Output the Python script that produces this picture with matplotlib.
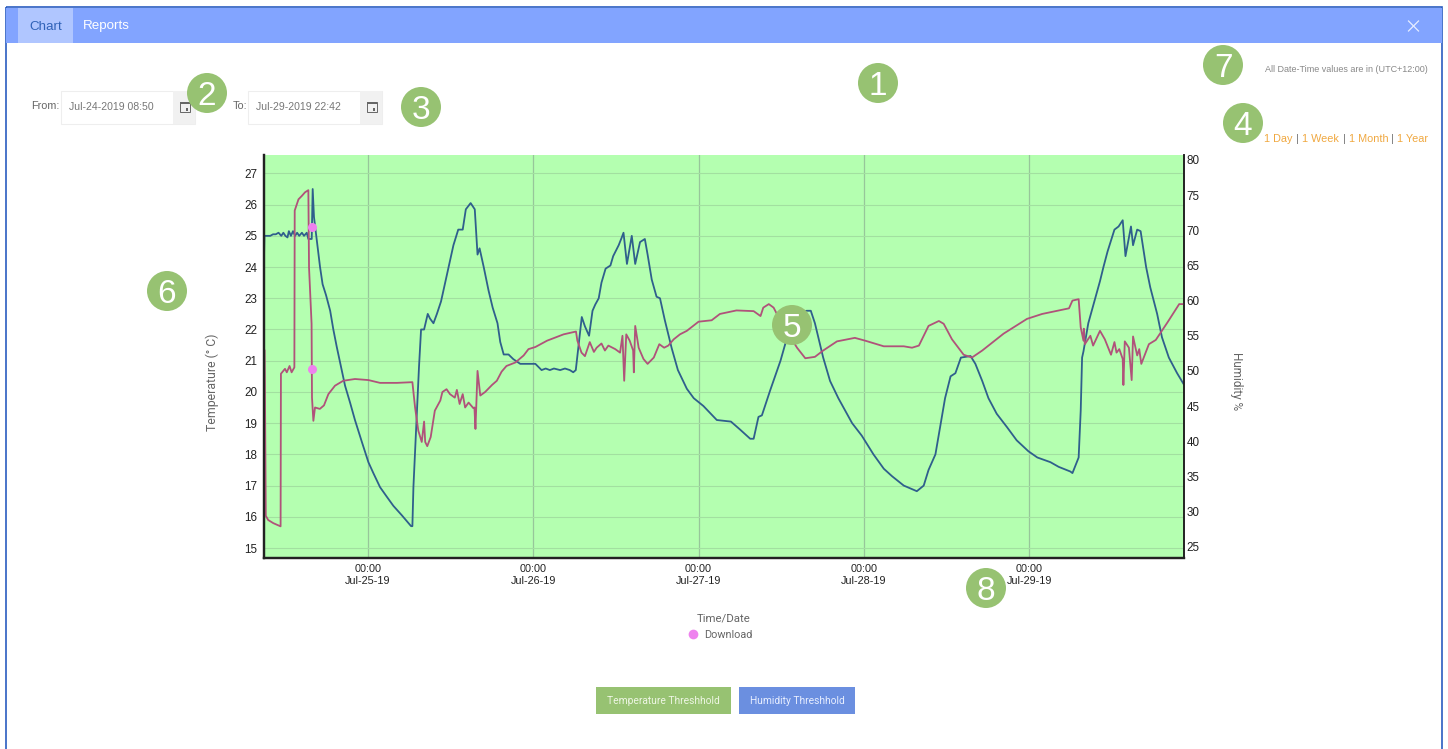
import matplotlib
matplotlib.use('Agg')
import matplotlib.pyplot as plt
from matplotlib.patches import Rectangle, Circle

# hours are counted from Jul-25 00:00
temp_hours = [-15.11, -15.05, -14.7, -14.2, -13.8, -13.4, -13.0, -12.6, -12.3, -12.0, -11.7, -11.5, -11.2, -10.9, -10.6,
              -10.3, -10.0, -9.6, -9.3, -8.9, -8.67, -8.18, -8.04, -7.85, -7.36, -6.97, -6.6, -6.1, -5.5, -5.04,
              -4.55, -3.97, -3.34, -2.6, -1.9, -0.9, 0.05, 0.77, 1.74, 2.7, 3.68, 4.9, 5.86, 6.25, 6.44,
              6.59, 7.07, 7.4, 7.7, 8.14, 8.67, 9.0, 9.5, 10.0, 10.6, 11.2, 11.9, 12.4, 13.1, 13.75,
              14.2, 14.9, 15.5, 15.9, 16.2, 16.8, 17.5, 18.1, 18.8, 19.2, 19.7, 20.4, 21.1, 22.1, 24.3,
              25.2, 25.8, 26.4, 27.0, 27.9, 28.6, 29.3, 29.8, 30.17, 31.04, 31.5, 32.1, 32.6, 33.0, 33.5,
              33.9, 34.5, 35.2, 35.6, 36.4, 36.85, 37.1, 37.6, 38.3, 38.8, 39.5, 40.2, 40.6, 41.2, 41.9,
              42.4, 43.1, 44.1, 45.0, 46.3, 47.3, 48.7, 50.65, 52.7, 54.0, 55.5, 56.0, 56.7, 57.2, 58.4,
              59.9, 60.8, 62.3, 63.7, 64.3, 64.9, 66.1, 67.1, 68.3, 70.3, 71.7, 73.4, 74.9, 76.1, 77.8,
              79.7, 80.7, 81.4, 82.4, 83.1, 83.8, 84.6, 85.3, 86.1, 87.5, 88.2, 89.2, 90.1, 91.3, 92.8,
              94.2, 95.9, 97.2, 99.1, 100.3, 102.0, 102.3, 103.2, 103.5, 103.7, 103.9, 104.6, 105.6, 106.3, 106.8,
              107.4, 108.4, 109.0, 109.6, 110.0, 110.8, 111.1, 111.7, 112.2, 113.0, 113.6, 114.6, 115.3, 116.3, 117.5,
              118.45]
temp_values = [24.3, 25.0, 25.0, 25.0, 25.05, 25.05, 25.1, 25.0, 25.1, 25.0, 24.95, 25.15, 25.0, 25.15, 25.0,
               25.1, 25.0, 25.1, 25.0, 25.1, 24.9, 24.9, 26.5, 25.6, 24.7, 24.0, 23.45, 23.1, 22.6, 22.0,
               21.45, 20.85, 20.2, 19.65, 19.1, 18.4, 17.75, 17.4, 16.95, 16.65, 16.35, 16.05, 15.8, 15.7, 15.7,
               16.95, 19.2, 20.8, 22.0, 22.0, 22.5, 22.35, 22.2, 22.5, 22.9, 23.5, 24.2, 24.7, 25.2, 25.2,
               25.85, 26.05, 25.85, 24.4, 24.6, 24.0, 23.25, 22.7, 22.2, 21.6, 21.2, 21.2, 21.05, 20.9, 20.9,
               20.7, 20.75, 20.7, 20.75, 20.7, 20.75, 20.7, 20.63, 20.7, 22.4, 22.1, 21.8, 22.6, 22.8, 23.0,
               23.5, 23.95, 24.05, 24.35, 24.7, 24.95, 25.1, 24.1, 25.0, 24.1, 24.8, 24.9, 24.4, 23.6, 23.05,
               23.0, 22.3, 21.4, 20.7, 20.1, 19.8, 19.55, 19.1, 19.05, 18.8, 18.5, 18.5, 19.2, 19.25, 20.05,
               21.0, 21.7, 22.5, 22.6, 22.6, 22.2, 21.1, 20.35, 19.8, 19.0, 18.6, 18.0, 17.54, 17.3, 17.0,
               16.82, 17.0, 17.5, 18.0, 18.9, 19.8, 20.5, 20.6, 21.1, 21.15, 20.9, 20.35, 19.8, 19.3, 18.87,
               18.45, 18.1, 17.9, 17.75, 17.6, 17.45, 17.4, 17.9, 19.4, 21.1, 21.3, 22.2, 23.0, 23.55, 24.0,
               24.5, 25.2, 25.3, 25.5, 24.35, 25.3, 24.7, 25.2, 25.15, 24.0, 23.35, 22.5, 21.75, 21.1, 20.6,
               20.25]

hum_hours = [-15.02, -14.98, -14.85, -14.5, -13.75, -12.7, -12.65, -12.06, -11.8, -11.4, -11.1, -10.7, -10.65, -10.1, -9.6,
             -9.15, -8.67, -8.57, -8.2, -8.14, -7.94, -7.7, -7.0, -6.4, -5.76, -4.8, -3.6, -1.9, 0.05, 1.74,
             4.2, 6.44, 6.83, 7.3, 7.8, 8.14, 8.3, 8.6, 9.1, 9.7, 10.5, 10.8, 11.4, 11.9, 12.6,
             12.9, 13.3, 13.75, 14.1, 14.6, 15.3, 15.45, 15.6, 15.9, 16.3, 17.0, 18.0, 18.7, 19.4, 20.1,
             21.4, 22.6, 23.3, 24.3, 26.0, 27.9, 28.4, 30.2, 30.4, 31.0, 31.5, 32.2, 32.8, 33.2, 33.9,
             34.4, 34.9, 35.9, 36.6, 36.95, 37.2, 37.5, 38.0, 38.5, 38.6, 38.8, 39.3, 40.0, 40.6, 41.5,
             42.3, 43.0, 43.6, 44.4, 45.3, 46.3, 48.0, 49.9, 51.1, 53.5, 56.0, 57.0, 57.4, 58.2, 58.9,
             59.9, 62.3, 63.5, 64.9, 66.1, 68.1, 70.7, 72.2, 74.9, 77.8, 79.0, 80.0, 81.4, 82.9, 83.6,
             84.8, 86.5, 87.7, 89.2, 92.3, 95.7, 97.9, 101.8, 102.3, 103.2, 103.5, 103.9, 103.95, 104.1, 104.9,
             105.3, 106.3, 107.0, 107.9, 108.4, 108.7, 109.1, 109.6, 109.7, 109.9, 110.5, 110.9, 111.1, 111.7, 112.0,
             112.3, 113.4, 114.4, 116.1, 117.8, 118.45]
hum_values = [52.9, 48.6, 29.4, 28.8, 28.35, 27.9, 49.6, 50.3, 49.8, 50.7, 49.8, 50.5, 72.8, 74.4, 74.9,
              75.4, 75.7, 64.7, 56.7, 46.2, 42.9, 44.8, 44.6, 45.1, 46.7, 47.9, 48.6, 48.85, 48.7, 48.3,
              48.3, 48.4, 44.8, 41.5, 39.9, 42.8, 39.9, 39.3, 40.6, 44.35, 45.8, 47.0, 47.4, 46.7, 46.2,
              47.3, 45.3, 46.7, 44.8, 45.5, 44.7, 44.8, 41.75, 50.0, 46.5, 47.0, 48.0, 48.6, 49.9, 50.7,
              51.2, 52.2, 53.1, 53.4, 54.3, 55.0, 55.2, 55.6, 54.3, 52.6, 52.1, 54.1, 52.7, 53.3, 53.9,
              52.9, 53.6, 53.1, 52.6, 55.0, 48.6, 55.2, 54.3, 52.9, 49.8, 56.4, 53.3, 51.7, 51.0, 51.9,
              53.8, 53.3, 53.6, 54.5, 55.2, 55.7, 57.0, 57.2, 58.1, 58.6, 58.5, 57.8, 59.0, 59.5, 59.0,
              57.1, 53.3, 51.8, 52.0, 52.9, 54.2, 54.7, 54.3, 53.5, 53.5, 53.3, 53.6, 56.4, 57.1, 56.7,
              54.5, 52.3, 51.9, 52.9, 55.3, 57.4, 58.1, 58.9, 60.0, 60.2, 56.2, 54.3, 56.0, 53.8, 55.0,
              53.6, 55.7, 54.5, 52.3, 54.1, 52.6, 53.1, 51.7, 48.0, 54.2, 53.3, 48.7, 54.9, 52.2, 53.1,
              51.0, 53.8, 54.4, 56.9, 59.5, 59.5]

download_hours = [-8.14, -8.14]
download_temps = [25.27, 20.74]

x_ticks = [0, 24, 48, 72, 96]
x_tick_labels = ['00:00\nJul-25-19', '00:00\nJul-26-19', '00:00\nJul-27-19', '00:00\nJul-28-19', '00:00\nJul-29-19']
temp_ticks = list(range(15, 28))
hum_ticks = list(range(25, 85, 5))
badges = [(878, 83, '1'), (207, 93, '2'), (421, 107, '3'), (1243, 123, '4'),
          (792, 325, '5'), (167, 291, '6'), (1223, 65, '7'), (986, 588, '8')]

W, H = 1448, 749
GREEN = '#97c272'
plt.rcParams['font.family'] = ['Roboto', 'DejaVu Sans']

fig = plt.figure(figsize=(W / 100, H / 100), dpi=100)

L, R, T, B = 264, 1184, 155, 558
ax = fig.add_axes([L / W, 1 - B / H, (R - L) / W, (B - T) / H])
ax.set_facecolor('#b4ffb0')
ax.plot(temp_hours, temp_values, color='#2f5f8c', lw=1.3)
ax.set_xlim(-15.11, 118.5)
ax.set_ylim(14.68, 27.59)
ax.set_yticks(temp_ticks)
ax.set_xticks(x_ticks)
ax.set_xticklabels(x_tick_labels, fontsize=7.8, color='#222222', family='Liberation Sans', linespacing=1.25)
ax.tick_params(axis='x', length=0, pad=4)
ax.tick_params(axis='y', length=0, pad=5, labelsize=8.4, labelcolor='#222222')
for t in ax.get_yticklabels():
    t.set_family('Liberation Sans')
ax.grid(axis='y', color='#a2e0a0', lw=0.8)
ax.grid(axis='x', color='#97c69a', lw=0.9)
ax.set_axisbelow(True)

ax2 = ax.twinx()
ax2.plot(hum_hours, hum_values, color='#b0527a', lw=1.3)
ax2.set_ylim(23.4, 80.7)
ax2.set_yticks(hum_ticks)
ax2.tick_params(axis='y', length=0, pad=2, labelsize=8.4, labelcolor='#222222')
for t in ax2.get_yticklabels():
    t.set_family('Liberation Sans')

ax3 = ax.twinx()
ax3.set_ylim(ax.get_ylim())
ax3.axis('off')
ax3.plot(download_hours, download_temps, 'o', color='#ee82ee', ms=6.5, mec='none', clip_on=False)

for a in (ax, ax2):
    a.spines['top'].set_visible(False)
    a.spines['left'].set_linewidth(1.6)
    a.spines['bottom'].set_linewidth(1.6)
    a.spines['right'].set_linewidth(1.2)
    for s in a.spines.values():
        s.set_color('#222222')

# everything around the chart, in page pixels
ui = fig.add_axes([0, 0, 1, 1], facecolor='none')
ui.set_xlim(0, W)
ui.set_ylim(H, 0)
ui.axis('off')
ui.set_zorder(5)


def box(x, y, w, h, **kw):
    ui.add_patch(Rectangle((x, y), w, h, **kw))


box(5.5, 7, 1436.5, 760, fc='none', ec='#2a5cc0', lw=1.2)
box(6, 8, 1436, 34.5, fc='#82a4ff', ec='none')
box(18, 8, 55, 34.5, fc='#b0c6ff', ec='none')
ui.text(45.5, 26.5, 'Chart', ha='center', va='center', fontsize=9.6, color='#2f62b8', family='Liberation Sans')
ui.text(106, 26.5, 'Reports', ha='center', va='center', fontsize=9.6, color='white', family='Liberation Sans')
ui.plot([1408.5, 1418.5], [21, 31], color='#e8eeff', lw=0.9)
ui.plot([1408.5, 1418.5], [31, 21], color='#e8eeff', lw=0.9)

for x0, label, lx, value in [(61, 'From:', 60, 'Jul-24-2019 08:50'), (248, 'To:', 247, 'Jul-29-2019 22:42')]:
    ui.text(lx, 106, label, ha='right', va='center', fontsize=7.8, color='#666666', family='Liberation Sans')
    box(x0, 91, 134, 33, fc='white', ec='#eeeeee', lw=0.8)
    box(x0 + 112, 91, 22, 33, fc='#f1f1f1', ec='none')
    ui.text(x0 + 8, 106.5, value, ha='left', va='center', fontsize=7.6, color='#777777', family='Liberation Sans')
    box(x0 + 118.5, 102, 10, 10, fc='none', ec='#666666', lw=0.7)
    box(x0 + 118.5, 102, 10, 2, fc='#666666', ec='none')
    box(x0 + 124.5, 108, 2.5, 2.5, fc='#666666', ec='none')

ui.text(1428, 69, 'All Date-Time values are in (UTC+12:00)', ha='right', va='center', fontsize=6.45,
        color='#888888', family='Liberation Sans')
x_link = 1264
for part, col, dx in [('1 Day', '#f0a840', 0), ('|', '#777777', 32), ('1 Week', '#f0a840', 38), ('|', '#777777', 79),
                      ('1 Month', '#f0a840', 85), ('|', '#777777', 127), ('1 Year', '#f0a840', 133)]:
    ui.text(x_link + dx, 139, part, ha='left', va='center', fontsize=7.8, color=col, family='Liberation Sans')

ui.text(212, 382, 'Temperature (° C)', rotation=90, ha='center', va='center', fontsize=8.8, color='#666666')
ui.text(1236, 381, 'Humidity %', rotation=270, ha='center', va='center', fontsize=8.5, color='#666666')
ui.text(724, 618, 'Time/Date', ha='center', va='center', fontsize=8.2, color='#666666')
ui.plot([693], [634], 'o', color='#ee82ee', ms=7, mec='none')
ui.text(704.5, 635.5, 'Download', ha='left', va='center', fontsize=7.8, color='#666666')

box(596, 687, 135, 27, fc=GREEN, ec='none')
ui.text(663.5, 701, 'Temperature Threshhold', ha='center', va='center', fontsize=7.4, color='#eef6e4')
box(739, 687, 116, 27, fc='#6b8fe0', ec='none')
ui.text(797, 701, 'Humidity Threshhold', ha='center', va='center', fontsize=7.4, color='#e8eeff')

for bx, by, num in badges:
    ui.add_patch(Circle((bx, by), 20, fc=GREEN, ec='none'))
    ui.text(bx, by, num, ha='center', va='center_baseline', fontsize=24, color='white', family='Liberation Sans')

fig.savefig('out.png', dpi=100)
